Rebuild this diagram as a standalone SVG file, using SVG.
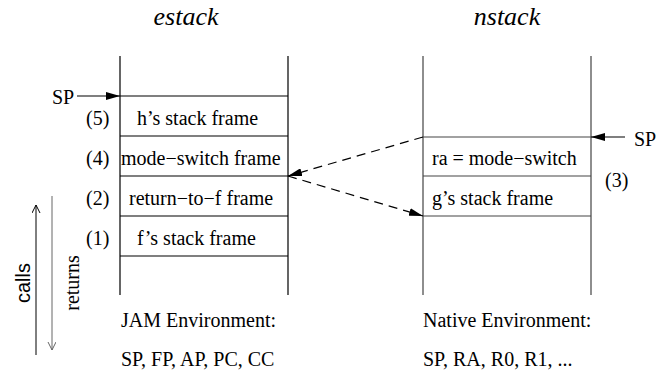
<svg xmlns="http://www.w3.org/2000/svg" width="665" height="372" viewBox="0 0 665 372">
<style>
text{font-family:"Liberation Serif","Times New Roman",serif;font-size:20px;fill:#000}
.title{font-style:italic;font-size:26px}
.sans{font-family:"Liberation Sans",Arial,sans-serif}
.stk{stroke:#000;stroke-width:1.2;fill:none}
.stk2{stroke:#444;stroke-width:1.2;fill:none}
.dash{stroke:#000;stroke-width:1.2;fill:none;stroke-dasharray:9 6}
</style>
<defs>
<marker id="ah" markerWidth="14" markerHeight="8" refX="14" refY="4" orient="auto" markerUnits="userSpaceOnUse">
<path d="M0,0 L14,4 L0,8 Z" fill="#000"/>
</marker>
<marker id="open" markerWidth="8" markerHeight="16" refX="8" refY="4" orient="auto" markerUnits="userSpaceOnUse">
<path d="M0,0 L8,4 L0,8" fill="none" stroke="context-stroke" stroke-width="1"/>
</marker>
</defs>
<text class="title" x="186" y="25" text-anchor="middle">estack</text>
<text class="title" x="507" y="25" text-anchor="middle">nstack</text>
<g id="estack">
<path class="stk" d="M120,56 V295 M288,56 V295"/>
<path class="stk" d="M120,96 H288 M120,136 H288 M120,176 H288 M120,216 H288 M120,256 H288"/>
<text x="137" y="125">h’s stack frame</text>
<text x="121" y="165">mode−switch frame</text>
<text x="129" y="205">return−to−f frame</text>
<text x="137" y="245">f’s stack frame</text>
<text x="86" y="125">(5)</text>
<text x="86" y="165">(4)</text>
<text x="86" y="205">(2)</text>
<text x="86" y="245">(1)</text>
<text x="52" y="104">SP</text>
</g>
<g id="nstack">
<path class="stk2" d="M423,56 V295 M591,56 V295"/>
<path class="stk2" d="M423,137 H591 M423,176 H591 M423,216 H591"/>
<text x="432" y="165">ra = mode−switch</text>
<text x="432" y="205">g’s stack frame</text>
<text x="605" y="187">(3)</text>
<text x="634" y="146">SP</text>
</g>
<g id="env">
<text x="121" y="327">JAM Environment:</text>
<text x="121" y="366">SP, FP, AP, PC, CC</text>
<text x="423" y="327">Native Environment:</text>
<text x="423" y="366">SP, RA, R0, R1, ...</text>
</g>
<g id="legend">
<text class="sans" transform="translate(30,283) rotate(-90)" text-anchor="middle" font-size="20">calls</text>
<text transform="translate(79,283) rotate(-90)" text-anchor="middle" font-size="21">returns</text>
</g>
<g id="connectors">
<line x1="77" y1="96" x2="120" y2="96" stroke="#000" stroke-width="1.2" marker-end="url(#ah)"/>
<line x1="625" y1="137" x2="591" y2="137" stroke="#000" stroke-width="1.2" marker-end="url(#ah)"/>
<line class="dash" x1="423" y1="137" x2="288" y2="176" marker-end="url(#ah)"/>
<line class="dash" x1="288" y1="176" x2="423" y2="216" marker-end="url(#ah)"/>
<line x1="36" y1="355" x2="36" y2="205" stroke="#000" stroke-width="1" marker-end="url(#open)"/>
<line x1="52" y1="196" x2="52" y2="350" stroke="#666" stroke-width="1" marker-end="url(#open)"/>
</g>
</svg>
